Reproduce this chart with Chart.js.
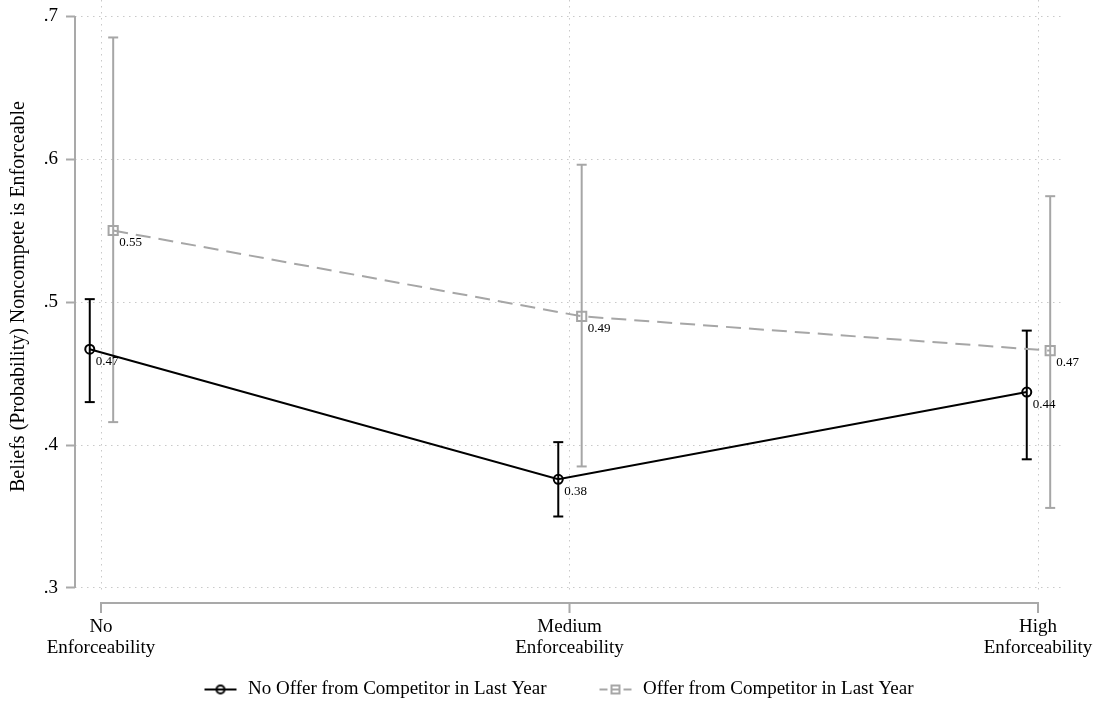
<!DOCTYPE html>
<html>
<head>
<meta charset="utf-8">
<script src="https://cdn.jsdelivr.net/npm/chart.js@4.4.1/dist/chart.umd.min.js"></script>
<style>
  html, body { margin: 0; padding: 0; background: #fff; }
  #wrap { width: 1098px; height: 709px; }
</style>
</head>
<body>
<div id="wrap"><canvas id="myChart"></canvas></div>
<script>
// categories on the x axis (0, 1, 2) and y tick values
const categories = [['No', 'Enforceability'], ['Medium', 'Enforceability'], ['High', 'Enforceability']]
const catPos = [0, 1, 2]
const yTicks = [0.3, 0.4, 0.5, 0.6, 0.7]

// No offer from competitor: point estimate and 95% CI
const noOfferMean = [0.467, 0.376, 0.437]
const noOfferLow = [0.430, 0.350, 0.390]
const noOfferHigh = [0.502, 0.402, 0.480]

// Offer from competitor
const offerMean = [0.550, 0.490, 0.466]
const offerLow = [0.416, 0.385, 0.356]
const offerHigh = [0.685, 0.596, 0.574]

const seriesNames = ['No Offer from Competitor in Last Year', 'Offer from Competitor in Last Year']

const serif = '"Liberation Serif", "Times New Roman", serif'
const axisGray = '#a9a9a9'
const offerGray = '#a6a6a6'
const gridGray = '#c9c9c9'
const shiftNo = -0.024
const shiftOffer = 0.026

function pts(arr, shift) {
  return arr.map((v, i) => ({ x: catPos[i] + shift, y: v }))
}

function errBars(low, high, shift, color) {
  return low.map((lo, i) => ({
    data: [{ x: catPos[i] + shift, y: lo }, { x: catPos[i] + shift, y: high[i] }],
    borderColor: color,
    borderWidth: 2,
    pointStyle: 'line',
    pointRadius: 5,
    pointBorderWidth: 2,
    pointBorderColor: color,
    pointHoverRadius: 5,
    showLine: true
  }))
}

// legend key: 77px wide, transparent on the left so the items sit further apart
function legendIcon(color, offer) {
  const c = document.createElement('canvas')
  c.width = 77
  c.height = 12
  const g = c.getContext('2d')
  const x0 = 43
  g.strokeStyle = color
  g.lineWidth = 2
  g.beginPath()
  if (offer) {
    g.moveTo(x0, 6); g.lineTo(x0 + 8, 6)
    g.moveTo(x0 + 11, 6); g.lineTo(x0 + 21, 6)
    g.moveTo(x0 + 24, 6); g.lineTo(x0 + 32, 6)
    g.stroke()
    g.strokeRect(x0 + 12, 2, 8, 8)
  } else {
    g.moveTo(x0, 6); g.lineTo(x0 + 32, 6)
    g.stroke()
    g.beginPath()
    g.arc(x0 + 16, 6, 4, 0, 2 * Math.PI)
    g.stroke()
  }
  return c
}

function noPad(s) {
  s.paddingTop = 0
  s.paddingBottom = 0
  s.paddingLeft = 0
  s.paddingRight = 0
}

// stata style axis lines: only over the tick range, x axis set below plot
const stataAxes = {
  id: 'stataAxes',
  afterLayout(chart) {
    const dx = 6.5
    chart.legend.left += dx
    chart.legend.right += dx
  },
  afterDraw(chart) {
    const ctx = chart.ctx
    const x = chart.scales.x
    const y = chart.scales.y
    ctx.save()
    ctx.strokeStyle = axisGray
    ctx.lineWidth = 2
    ctx.beginPath()
    ctx.moveTo(x.left, y.getPixelForValue(yTicks[0]))
    ctx.lineTo(x.left, y.getPixelForValue(yTicks[yTicks.length - 1]))
    const xa = y.bottom + 10
    ctx.moveTo(x.getPixelForValue(catPos[0]), xa)
    ctx.lineTo(x.getPixelForValue(catPos[catPos.length - 1]), xa)
    catPos.forEach(v => {
      const px = x.getPixelForValue(v)
      ctx.moveTo(px, xa - 1)
      ctx.lineTo(px, xa + 10)
    })
    ctx.stroke()
    ctx.restore()
  }
}

const pointLabels = {
  id: 'pointLabels',
  afterDatasetsDraw(chart) {
    const ctx = chart.ctx
    ctx.save()
    ctx.font = '13px ' + serif
    ctx.fillStyle = '#000'
    ctx.textAlign = 'left'
    ctx.textBaseline = 'middle'
    ;[0, 1].forEach(d => {
      const meta = chart.getDatasetMeta(d)
      meta.data.forEach((p, i) => {
        ctx.fillText(chart.data.datasets[d].data[i].y.toFixed(2), p.x + 6, p.y + 12)
      })
    })
    ctx.restore()
  }
}

const ctx = document.getElementById('myChart')

new Chart(ctx, {
  type: 'line',
  data: {
    datasets: [
      {
        label: seriesNames[0],
        data: pts(noOfferMean, shiftNo),
        borderColor: '#000',
        borderWidth: 2,
        pointStyle: 'circle',
        pointRadius: 4.5,
        pointBorderWidth: 2,
        pointBorderColor: '#000',
        pointBackgroundColor: 'rgba(0,0,0,0)'
      },
      {
        label: seriesNames[1],
        data: pts(offerMean, shiftOffer),
        borderColor: offerGray,
        borderWidth: 2,
        borderDash: [15, 8],
        pointStyle: 'rect',
        pointRadius: 6.5,
        pointBorderWidth: 2,
        pointBorderColor: offerGray,
        pointBackgroundColor: 'rgba(0,0,0,0)'
      },
      ...errBars(noOfferLow, noOfferHigh, shiftNo, '#000'),
      ...errBars(offerLow, offerHigh, shiftOffer, offerGray)
    ]
  },
  options: {
    responsive: true,
    maintainAspectRatio: false,
    animation: false,
    layout: { autoPadding: false, padding: { left: 0, right: 36, top: 0, bottom: 0 } },
    plugins: {
      tooltip: { enabled: false },
      legend: {
        position: 'bottom',
        labels: {
          usePointStyle: true,
          pointStyleWidth: 77,
          padding: 10,
          color: '#000',
          font: { family: serif, size: 19 },
          generateLabels: () => [
            { text: seriesNames[0], pointStyle: legendIcon('#000', false), fillStyle: 'rgba(0,0,0,0)', strokeStyle: 'rgba(0,0,0,0)', lineWidth: 0, datasetIndex: 0 },
            { text: seriesNames[1], pointStyle: legendIcon(offerGray, true), fillStyle: 'rgba(0,0,0,0)', strokeStyle: 'rgba(0,0,0,0)', lineWidth: 0, datasetIndex: 1 }
          ]
        }
      }
    },
    scales: {
      x: {
        type: 'linear',
        min: -0.0555,
        max: 2.0512,
        afterBuildTicks: s => { s.ticks = catPos.map(v => ({ value: v })) },
        afterFit: s => { s.height = 77; noPad(s) },
        border: { display: false, dash: [1.5, 4.5] },
        grid: { color: gridGray, lineWidth: 1, drawTicks: false },
        ticks: {
          padding: 24,
          maxRotation: 0,
          autoSkip: false,
          color: '#000',
          font: { family: serif, size: 19, lineHeight: 1.1 },
          callback: (v, i) => categories[i]
        }
      },
      y: {
        min: 0.2965,
        max: 0.7112,
        afterBuildTicks: s => { s.ticks = yTicks.map(v => ({ value: v })) },
        afterFit: s => { s.width = 75; noPad(s) },
        border: { display: false, dash: [1.5, 4.5] },
        grid: { color: gridGray, lineWidth: 1, drawTicks: true, tickLength: 9, tickColor: axisGray, tickWidth: 2, tickBorderDash: [] },
        ticks: {
          padding: 8,
          color: '#000',
          font: { family: serif, size: 19 },
          callback: v => v.toFixed(1).replace(/^0/, '')
        },
        title: {
          display: true,
          text: 'Beliefs (Probability) Noncompete is Enforceable',
          color: '#000',
          font: { family: serif, size: 20 },
          padding: { top: 7, bottom: 0 }
        }
      }
    }
  },
  plugins: [stataAxes, pointLabels]
})
</script>
</body>
</html>
